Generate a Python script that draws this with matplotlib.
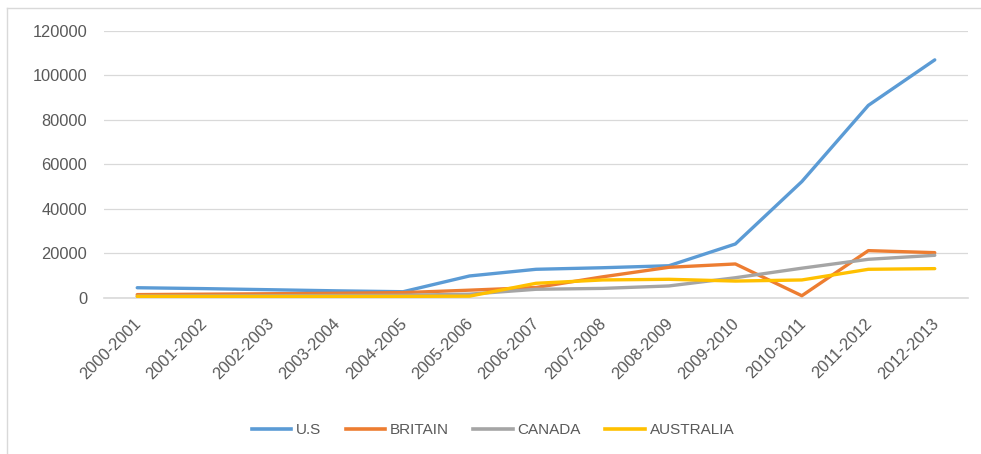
import matplotlib
matplotlib.use('Agg')
from matplotlib import pyplot as plt
from matplotlib.lines import Line2D
import matplotlib.transforms as mtransforms
import numpy as np

years = ['2000-2001', '2001-2002', '2002-2003', '2003-2004', '2004-2005', '2005-2006',
         '2006-2007', '2007-2008', '2008-2009', '2009-2010', '2010-2011', '2011-2012',
         '2012-2013']

us = [4400, 4000, 3500, 3000, 2600, 9700, 12700, 13400, 14300, 24100, 52200, 86500, 107000]
britain = [1300, 1500, 1700, 1900, 2200, 3300, 4500, 9300, 13600, 15100, 800, 21100, 20200]
canada = [600, 700, 800, 900, 1000, 1500, 3700, 4100, 5200, 8900, 13200, 17200, 19000]
australia = [500, 500, 500, 500, 500, 600, 6400, 7900, 8200, 7400, 7900, 12700, 13000]

series = [('U.S', us, '#5B9BD5'),
          ('BRITAIN', britain, '#ED7D31'),
          ('CANADA', canada, '#A5A5A5'),
          ('AUSTRALIA', australia, '#FFC000')]

plt.rcParams['font.family'] = ['Liberation Sans', 'DejaVu Sans']
textcol = '#595959'

fig = plt.figure(figsize=(9.81, 4.54), dpi=100)
ax = fig.add_axes([104/981, 1-297.5/454, (968-104)/981, (297.5-31)/454])

x = np.arange(len(years))
for name, vals, col in series:
    ax.plot(x, vals, color=col, lw=2.4, label=name, solid_capstyle='round', solid_joinstyle='round')

ax.set_xlim(-0.5, len(years)-0.5)
ax.set_ylim(0, 120000)
ax.set_yticks(range(0, 120001, 20000))
ax.yaxis.grid(True, color='#D9D9D9', lw=0.9)
ax.axhline(0, color='#D9D9D9', lw=1.2, clip_on=False, zorder=0.5)
ax.set_axisbelow(True)
for s in ['top', 'right', 'left', 'bottom']:
    ax.spines[s].set_visible(False)
ax.set_xticks(x)
ax.set_xticklabels(years, rotation=45, ha='right', rotation_mode='anchor')
ax.tick_params(axis='y', length=0, pad=12, labelsize=11.8, labelcolor=textcol)
ax.tick_params(axis='x', length=0, pad=13, labelsize=11.8, labelcolor=textcol)
shift = mtransforms.ScaledTranslation(-4/100, 0, fig.dpi_scale_trans)
for lab in ax.get_xticklabels():
    lab.set_transform(lab.get_transform() + shift)

handles = [Line2D([0], [0], color=c, lw=2.6) for _, _, c in series]
fig.legend(handles, [n for n, _, _ in series], loc='center', bbox_to_anchor=(493/981, 1-430/454),
           ncol=4, frameon=False, handlelength=2.6, columnspacing=1.6, handletextpad=0.3,
           labelcolor=textcol, fontsize=11)

# chart area border (left and top visible)
fig.add_artist(Line2D([7/981, 7/981], [0, 1-8/454], color='#D9D9D9', lw=1))
fig.add_artist(Line2D([7/981, 1], [1-8/454, 1-8/454], color='#D9D9D9', lw=1))

fig.savefig('out.png', dpi=100)
